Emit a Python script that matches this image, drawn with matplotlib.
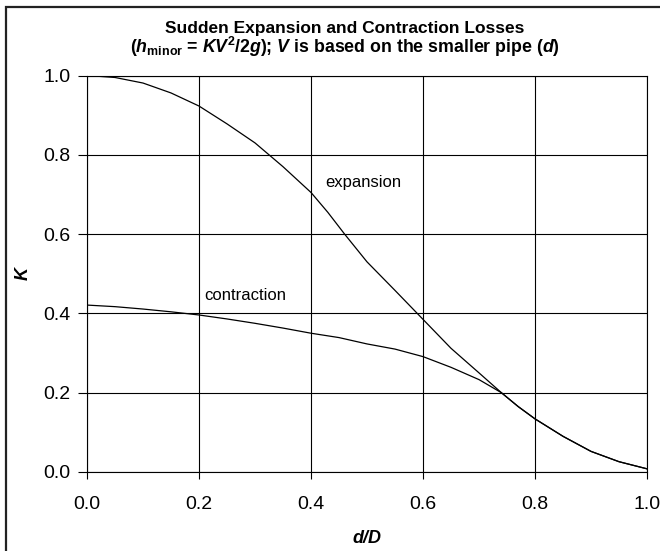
import matplotlib.pyplot as plt
import matplotlib as mpl
from matplotlib.patches import Rectangle

# d/D against loss coefficient K
EXP_DD = [0.0, 0.05, 0.1, 0.15, 0.2, 0.25, 0.3, 0.35, 0.4, 0.43, 0.46, 0.5,
          0.55, 0.6, 0.65, 0.7, 0.74, 0.77, 0.8, 0.85, 0.9, 0.95, 1.0]
EXP_K  = [1.0, 0.995, 0.981, 0.956, 0.923, 0.878, 0.830, 0.770, 0.705, 0.655, 0.600, 0.530,
          0.458, 0.385, 0.312, 0.250, 0.200, 0.165, 0.134, 0.090, 0.052, 0.026, 0.008]

CON_DD = [0.0, 0.05, 0.1, 0.15, 0.2, 0.25, 0.3, 0.35, 0.4, 0.45, 0.5, 0.55,
          0.6, 0.65, 0.7, 0.74, 0.77, 0.8, 0.85, 0.9, 0.95, 1.0]
CON_K  = [0.421, 0.417, 0.411, 0.404, 0.396, 0.386, 0.375, 0.363, 0.350, 0.339, 0.323, 0.310,
          0.291, 0.264, 0.233, 0.200, 0.165, 0.134, 0.090, 0.052, 0.026, 0.008]

TICKS = [0.0, 0.2, 0.4, 0.6, 0.8, 1.0]
TICK_LABELS = ["0.0", "0.2", "0.4", "0.6", "0.8", "1.0"]

W, H = 660, 551
FONT = "Liberation Sans"


def setup_fonts():
    plt.rcParams["font.family"] = [FONT, "DejaVu Sans"]
    plt.rcParams["mathtext.fontset"] = "custom"
    plt.rcParams["mathtext.rm"] = f"{FONT}:bold"
    plt.rcParams["mathtext.it"] = f"{FONT}:italic:bold"
    plt.rcParams["mathtext.bf"] = f"{FONT}:bold"
    plt.rcParams["mathtext.bfit"] = f"{FONT}:italic:bold"


def main():
    setup_fonts()
    fig = plt.figure(figsize=(W / 100, H / 100), dpi=100)
    ax = fig.add_axes([87 / W, 1 - 472 / H, 560 / W, 396.5 / H])

    # outer chart border (right/bottom edges fall outside the crop)
    fig.patches.append(Rectangle((6.5 / W, -0.1), 1.2, 1.1 - 6.5 / H,
                                 transform=fig.transFigure, fill=False,
                                 edgecolor="#222222", linewidth=1.6))

    ax.plot(EXP_DD, EXP_K, color="black", linewidth=0.9, solid_joinstyle="round")
    ax.plot(CON_DD, CON_K, color="black", linewidth=0.9, solid_joinstyle="round")

    ax.set_xlim(0, 1)
    ax.set_ylim(0, 1)
    ax.set_xticks(TICKS)
    ax.set_xticklabels(TICK_LABELS)
    ax.set_yticks(TICKS)
    ax.set_yticklabels(TICK_LABELS)
    ax.grid(True, color="black", linewidth=0.8)
    ax.set_axisbelow(True)
    for s in ax.spines.values():
        s.set_color("black")
        s.set_linewidth(0.8)
    ax.tick_params(axis="y", direction="out", length=6.5, width=0.8, pad=5.5, labelsize=14)
    ax.tick_params(axis="x", direction="out", length=4.8, width=0.8, pad=12.5, labelsize=14)

    ax.text(0.425, 0.729, "expansion", fontsize=12, va="center", ha="left")
    ax.text(0.2095, 0.446, "contraction", fontsize=12, va="center", ha="left")

    ax.set_xlabel("d/D", fontsize=13, fontweight="bold", style="italic", labelpad=12)
    ax.set_ylabel("K", fontsize=13, fontweight="bold", style="italic", labelpad=8)

    fig.text(345 / W, 1 - 33.3 / H, "Sudden Expansion and Contraction Losses",
             ha="center", va="baseline", fontsize=12.5, fontweight="bold")
    fig.text(345 / W, 1 - 53.3 / H,
             r"($\mathbfit{h}_{\mathbf{minor}}$ = $\mathbfit{KV}^{\mathbf{2}}\mathbf{/2}\mathbfit{g}$); "
             r"$\mathbfit{V}$ is based on the smaller pipe ($\mathbfit{d}$)",
             ha="center", va="baseline", fontsize=12.8, fontweight="bold")

    fig.savefig("out.png", dpi=100)
    plt.close(fig)


if __name__ == "__main__":
    main()
